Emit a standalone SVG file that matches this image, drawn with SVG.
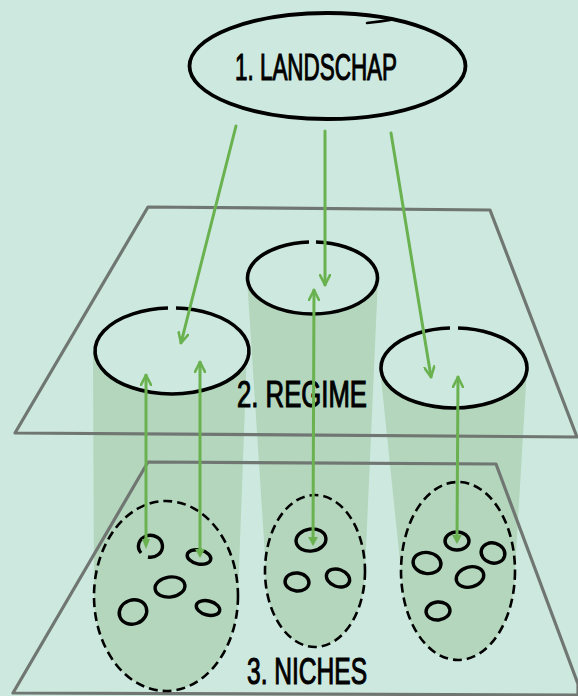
<svg xmlns="http://www.w3.org/2000/svg" width="578" height="696" viewBox="0 0 578 696">
  <defs>
    <style>
      .plane { fill: none; stroke: #707672; stroke-width: 3.2; stroke-linejoin: round; }
      .shade { fill: #b3d6bc; }
      .top { fill: #cde9df; stroke: #000; stroke-width: 3.6; stroke-linecap: butt; }
      .niche { fill: #b3d6bc; stroke: #000; stroke-width: 2.6; stroke-dasharray: 9 5; }
      .cell { fill: none; stroke: #000; stroke-width: 3.4; }
      .arrow { fill: none; stroke: #6ab150; stroke-width: 3; stroke-linecap: round; }
      .tip { fill: #6ab150; }
      .label { font-family: "Liberation Sans", Arial, sans-serif; font-size: 36px; fill: #000; stroke: #000; stroke-width: 1.1; }
    </style>
    <marker id="head" viewBox="0 0 12 12" refX="11" refY="6" markerWidth="12" markerHeight="12" markerUnits="userSpaceOnUse" orient="auto">
      <path d="M1,1 L11,6 L1,11" fill="none" stroke="#6ab150" stroke-width="2.6" stroke-linecap="round" stroke-linejoin="round"/>
    </marker>
  </defs>
  <rect width="578" height="696" fill="#cde9df"/>

  <!-- cylinder shading -->
  <g id="shading">
    <polygon class="shade" points="93,351 247,351 238,596 94,596"/>
    <polygon class="shade" points="247,278 378,278 365,571 266,571"/>
    <polygon class="shade" points="380,368 527,368 515,571 401,571"/>
  </g>

  <!-- planes -->
  <g id="regime-plane">
    <polygon class="plane" points="148,207 490,210 577,437 15,433"/>
  </g>
  <g id="niches-plane">
    <polyline class="plane" points="578,696 578,684 496,464 148,462 13,693 578,695"/>
  </g>

  <!-- niches -->
  <g id="niche-left">
    <ellipse class="niche" cx="166" cy="596" rx="72" ry="95"/>
    <path class="cell" d="M141,553 A12 11 0 1 1 148,557"/>
    <ellipse class="cell" cx="199" cy="557" rx="12" ry="7" transform="rotate(12 199 557)"/>
    <ellipse class="cell" cx="170" cy="587" rx="15" ry="10" transform="rotate(-8 170 587)"/>
    <ellipse class="cell" cx="133" cy="612" rx="14" ry="12" transform="rotate(-20 133 612)"/>
    <ellipse class="cell" cx="208" cy="608" rx="12" ry="7" transform="rotate(15 208 608)"/>
  </g>
  <g id="niche-middle">
    <ellipse class="niche" cx="315" cy="571" rx="50" ry="76"/>
    <ellipse class="cell" cx="311" cy="540" rx="15" ry="11" transform="rotate(-8 311 540)"/>
    <ellipse class="cell" cx="297" cy="582" rx="12" ry="9" transform="rotate(5 297 582)"/>
    <ellipse class="cell" cx="338" cy="578" rx="12" ry="8.5" transform="rotate(20 338 578)"/>
  </g>
  <g id="niche-right">
    <ellipse class="niche" cx="458" cy="571" rx="57" ry="89"/>
    <ellipse class="cell" cx="457" cy="541" rx="12" ry="9"/>
    <ellipse class="cell" cx="427" cy="563" rx="14" ry="10.5" transform="rotate(8 427 563)"/>
    <ellipse class="cell" cx="493" cy="553" rx="12" ry="10" transform="rotate(15 493 553)"/>
    <ellipse class="cell" cx="470" cy="577" rx="14" ry="10" transform="rotate(-15 470 577)"/>
    <ellipse class="cell" cx="438" cy="611" rx="12" ry="9" transform="rotate(-5 438 611)"/>
  </g>

  <!-- regime tops -->
  <g id="regime-left">
    <path class="top" d="M176,308 A77 43 0 1 1 168,308"/>
  </g>
  <g id="regime-middle">
    <path class="top" d="M316,242 A65 36 0 1 1 309,242"/>
  </g>
  <g id="regime-right">
    <path class="top" d="M458,328 A73 40 0 1 1 450,328"/>
  </g>

  <!-- landscape -->
  <g id="landscape">
    <ellipse cx="327.5" cy="66" rx="138" ry="53" fill="none" stroke="#000" stroke-width="3.8"/>
    <path d="M367,23 Q381,21.5 393,19.5" fill="none" stroke="#000" stroke-width="2.5" stroke-linecap="round"/>
    <text class="label" x="235" y="80" textLength="162" lengthAdjust="spacingAndGlyphs">1. LANDSCHAP</text>
  </g>

  <!-- labels -->
  <text id="label-regime" class="label" x="237" y="407" textLength="130" lengthAdjust="spacingAndGlyphs">2. REGIME</text>
  <text id="label-niches" class="label" x="247" y="684" textLength="120" lengthAdjust="spacingAndGlyphs">3. NICHES</text>

  <!-- connectors -->
  <g id="connectors">
    <line class="arrow" x1="236" y1="126" x2="181" y2="343" marker-end="url(#head)"/>
    <line class="arrow" x1="325" y1="131" x2="325" y2="285" marker-end="url(#head)"/>
    <line class="arrow" x1="391" y1="133" x2="431" y2="377" marker-end="url(#head)"/>

    <line class="arrow" x1="146" y1="542" x2="146" y2="375" marker-end="url(#head)"/>
    <line class="arrow" x1="200" y1="552" x2="200" y2="362" marker-end="url(#head)"/>
    <line class="arrow" x1="313" y1="540" x2="314" y2="290" marker-end="url(#head)"/>
    <line class="arrow" x1="457" y1="538" x2="458" y2="377" marker-end="url(#head)"/>

    <polygon class="tip" points="142,539 150,539 146,549"/>
    <polygon class="tip" points="195,549 205,549 200,558"/>
    <polygon class="tip" points="308,537 318,537 313,546"/>
    <polygon class="tip" points="452,535 462,535 457,544"/>
  </g>
</svg>
